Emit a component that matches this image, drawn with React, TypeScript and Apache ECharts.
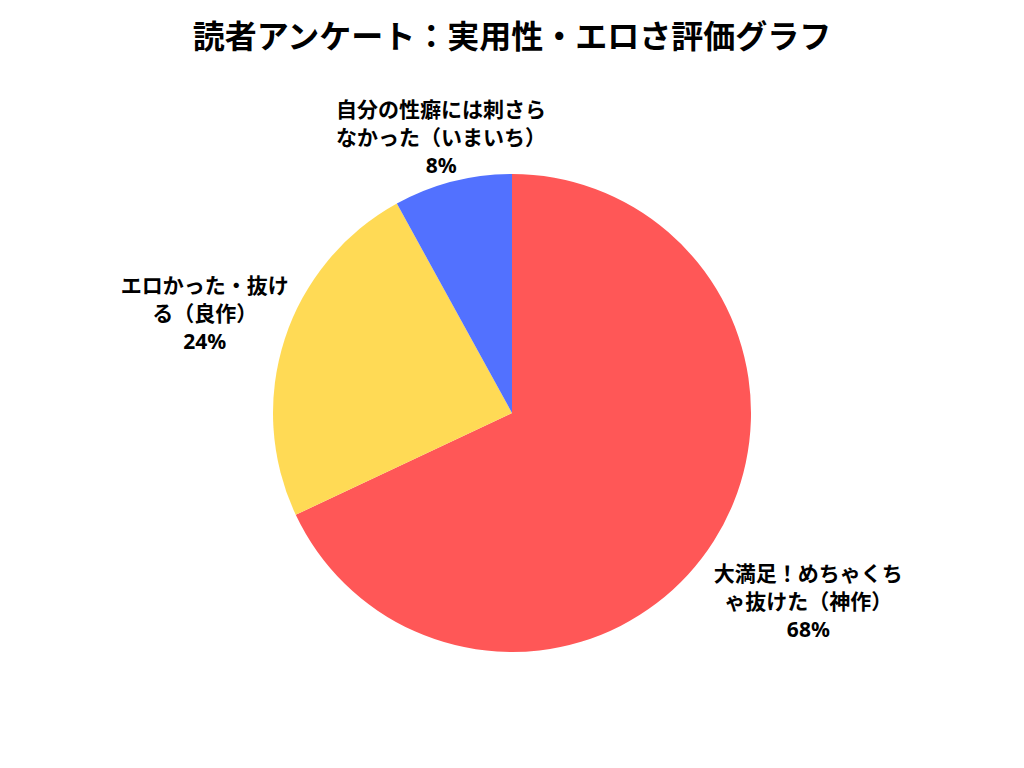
import * as echarts from 'echarts';
import { useEffect, useRef } from 'react';

const titleText = '読者アンケート：実用性・エロさ評価グラフ';
const categories = [
  '大満足！めちゃくちゃ抜けた（神作）',
  'エロかった・抜ける（良作）',
  '自分の性癖には刺さらなかった（いまいち）',
];
const values = [68, 24, 8];
const colors = ['#FF5757', '#FFDA55', '#5271FF'];

// label placement: distance from centre along the slice's mid-angle, wrap width
const labelDistance = [351, 323, 285];
const labelWidth = [200, 180, 215];

const CX = 512;
const CY = 413;
const RADIUS = 239;
const FONT = "'Noto Sans', 'Noto Sans CJK JP', sans-serif";

export default function App() {
  const chartRef = useRef<HTMLDivElement>(null);

  useEffect(() => {
    if (!chartRef.current) return;
    document.body.style.margin = '0';

    const chart = echarts.init(chartRef.current, undefined, { renderer: 'svg' });

    const total = values.reduce((a, b) => a + b, 0);
    const midAngles: number[] = [];
    let acc = 0;
    values.forEach((v) => {
      const mid = 90 - ((acc + v / 2) / total) * 360;
      midAngles.push((mid * Math.PI) / 180);
      acc += v;
    });

    chart.setOption({
      animation: false,
      backgroundColor: '#ffffff',
      title: {
        text: titleText,
        left: 'center',
        top: 14,
        textStyle: {
          fontFamily: FONT,
          fontSize: 32,
          fontWeight: 'bold',
          color: '#000000',
        },
      },
      series: [
        {
          type: 'pie',
          center: [CX, CY],
          radius: RADIUS,
          startAngle: 90,
          clockwise: true,
          avoidLabelOverlap: false,
          data: categories.map((name, i) => ({
            name,
            value: values[i],
            itemStyle: { color: colors[i] },
            label: { width: labelWidth[i] },
          })),
          label: {
            show: true,
            position: 'outside',
            formatter: (p: any) => `${p.name}\n${Math.round(p.percent)}%`,
            overflow: 'break',
            fontFamily: FONT,
            fontSize: 21,
            fontWeight: 'bold',
            lineHeight: 28,
            color: '#000000',
            align: 'center',
          },
          labelLine: { show: false },
          labelLayout: (params: any) => {
            const i = params.dataIndex;
            return {
              x: CX + labelDistance[i] * Math.cos(midAngles[i]),
              y: CY - labelDistance[i] * Math.sin(midAngles[i]),
              align: 'center',
              verticalAlign: 'middle',
            };
          },
        },
      ],
    });

    const handleResize = () => chart.resize();
    window.addEventListener('resize', handleResize);

    return () => {
      window.removeEventListener('resize', handleResize);
      chart.dispose();
    };
  }, []);

  return <div ref={chartRef} style={{ width: '1024px', height: '768px' }} />;
}
